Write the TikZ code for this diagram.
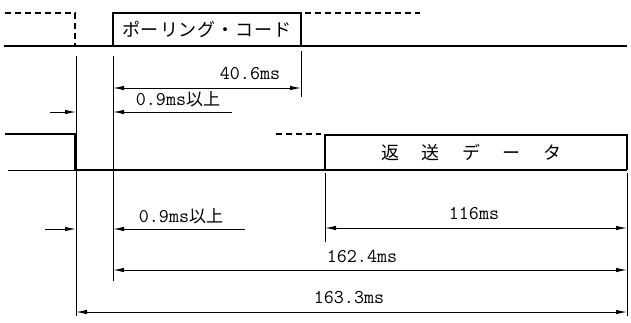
\documentclass[tikz,border=0pt]{standalone}
\usepackage{fontspec}
\newfontfamily\jpfont{Noto Sans CJK JP}
\usetikzlibrary{arrows.meta}
\tikzset{sig/.style={line width=1.4pt},
         sigdash/.style={line width=1.3pt, dash pattern=on 6pt off 4pt},
         ext/.style={line width=1pt},
         dim/.style={line width=1pt, -{Latex[length=11pt,width=4.5pt]}},
         dimboth/.style={line width=1pt, {Latex[length=11pt,width=4.5pt]}-{Latex[length=11pt,width=4.5pt]}},
         lbl/.style={font=\ttfamily\fontsize{19.5}{19.5}\selectfont, inner sep=0pt},
         jlbl/.style={font=\jpfont\fontsize{18}{18}\selectfont, inner sep=0pt}}

\begin{document}
\begin{tikzpicture}[x=1pt,y=-1pt]
\useasboundingbox (0,0) rectangle (631,322);
% Upper signal: polling code
\coordinate (ustart) at (4,46);
\coordinate (uend) at (627,46);
\coordinate (pbl) at (113,46);
\coordinate (pbr) at (301,46);
\draw[sig] (ustart) -- (uend);
\draw[sigdash] (5,13) -- (75,13) -- (75,46);
\draw[sig] (pbl) -- (113,13) -- (301,13) -- (pbr);
\draw[sigdash] (305,13) -- (420,13);
\node[jlbl] (poll) at (207,29) {ポ\hspace{1pt}ー\hspace{1pt}リ\hspace{1pt}ン\hspace{1pt}グ\hspace{1pt}・\hspace{1pt}コ\hspace{1pt}ー\hspace{1pt}ド};
% Lower signal: returned data
\coordinate (lfall) at (75,170);
\coordinate (dbl) at (325,170);
\coordinate (dbr) at (627,170);
\draw[line width=0.8pt] (8,170) -- (lfall);
\draw[sig] (5,134) -- (75,134) -- (lfall) -- (dbr);
\draw[sigdash] (276,134) -- (321,134);
\draw[sig] (dbl) -- (325,135) -- (627,135) -- (dbr);
\node[jlbl] (data) at (471,152) {返\hspace{1.25em}送\hspace{1.25em}デ\hspace{1.25em}ー\hspace{1.25em}タ};
% Extension lines
\draw[ext] (76,56) -- (76,316);
\draw[ext] (113,56) -- (113,281);
\draw[ext] (301,51) -- (301,97);
\draw[ext] (325,173) -- (325,242);
\draw[ext] (627,173) -- (627,316);
% 40.6ms
\coordinate (a1) at (113,88);
\coordinate (a2) at (301,88);
\draw[dimboth] (a1) -- (a2);
\node[lbl] (t406) at (250,74) {40.6ms};
% 0.9ms (upper)
\coordinate (b0) at (50,112);
\coordinate (b1) at (76,112);
\coordinate (b2) at (113,112);
\coordinate (b3) at (232,112);
\draw[dim] (b0) -- (b1);
\draw[dim] (b3) -- (b2);
\node[lbl] (t09a) at (178,99) {0.9ms{\jpfont\fontsize{17}{17}\selectfont 以上}};
% 116ms
\coordinate (c1) at (325,228);
\coordinate (c2) at (627,228);
\draw[dimboth] (c1) -- (c2);
\node[lbl] (t116) at (474,214) {116ms};
% 0.9ms (lower)
\coordinate (d0) at (45,229);
\coordinate (d1) at (76,229);
\coordinate (d2) at (113,229);
\coordinate (d3) at (245,229);
\draw[dim] (d0) -- (d1);
\draw[dim] (d3) -- (d2);
\node[lbl] (t09b) at (181,216) {0.9ms{\jpfont\fontsize{17}{17}\selectfont 以上}};
% 162.4ms
\coordinate (e1) at (113,270);
\coordinate (e2) at (627,270);
\draw[dimboth] (e1) -- (e2);
\node[lbl] (t1624) at (362,257) {162.4ms};
% 163.3ms
\coordinate (f1) at (76,312);
\coordinate (f2) at (627,312);
\draw[dimboth] (f1) -- (f2);
\node[lbl] (t1633) at (349,298) {163.3ms};
\end{tikzpicture}
\end{document}
